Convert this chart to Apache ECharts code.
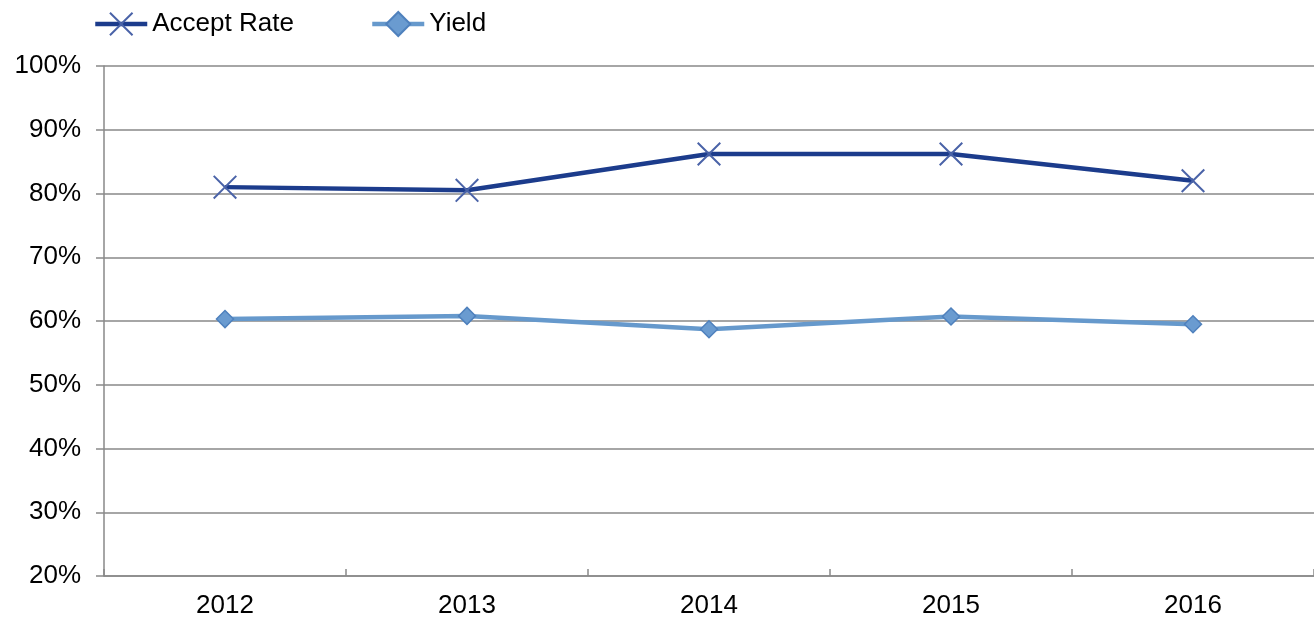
<!DOCTYPE html>
<html>
<head>
<meta charset="utf-8">
<script src="https://cdn.jsdelivr.net/npm/echarts@6/dist/echarts.min.js"></script>
<style>html,body{margin:0;padding:0;background:#fff;}#c{width:1314px;height:620px;}</style>
</head>
<body>
<div id="c"></div>
<script>
var categories = ['2012', '2013', '2014', '2015', '2016'];
var acceptRate = [81.0, 80.5, 86.2, 86.2, 82.0];
var yieldRate = [60.3, 60.8, 58.7, 60.7, 59.5];
var seriesNames = ['Accept Rate', 'Yield'];

var crossPath = 'path://M0,1.4 L1.4,0 L12,10.6 L22.6,0 L24,1.4 L13.4,12 L24,22.6 L22.6,24 L12,13.4 L1.4,24 L0,22.6 L10.6,12 Z';
var FONT = 'Liberation Sans, Arial, sans-serif';

var chart = echarts.init(document.getElementById('c'), null, {renderer: 'canvas'});
var legendCommon = {top: 6, itemWidth: 52, itemHeight: 30,
  lineStyle: {width: 4.5},
  textStyle: {fontFamily: FONT, fontSize: 26, color: '#000'}};
chart.setOption({
  animation: false,
  backgroundColor: '#ffffff',
  legend: [
    Object.assign({data: [seriesNames[0]], left: 88}, legendCommon),
    Object.assign({data: [seriesNames[1]], left: 365}, legendCommon)
  ],
  grid: {left: 104, right: -2, top: 66, bottom: 44, containLabel: false},
  xAxis: {
    type: 'category',
    data: categories,
    boundaryGap: true,
    axisLine: {lineStyle: {color: '#898989', width: 1.5}},
    axisTick: {show: true, inside: true, length: 7, lineStyle: {color: '#898989', width: 1.5}},
    axisLabel: {fontFamily: FONT, fontSize: 26, color: '#000', margin: 17}
  },
  yAxis: {
    type: 'value',
    min: 20, max: 100, interval: 10,
    axisLine: {show: true, lineStyle: {color: '#898989', width: 1.5}},
    axisTick: {show: true, length: 8, lineStyle: {color: '#898989', width: 1.5}},
    splitLine: {lineStyle: {color: '#898989', width: 1.5}},
    axisLabel: {fontFamily: FONT, fontSize: 26, color: '#000', margin: 23, formatter: '{value}%'}
  },
  series: [
    {
      name: seriesNames[0], type: 'line', data: acceptRate,
      symbol: crossPath, symbolSize: 24, showAllSymbol: true,
      lineStyle: {color: '#1c3c8c', width: 4.5},
      itemStyle: {color: '#4a63a8', borderWidth: 0},
      z: 3
    },
    {
      name: seriesNames[1], type: 'line', data: yieldRate,
      symbol: 'diamond', symbolSize: 17,
      lineStyle: {color: '#6699cc', width: 4.5},
      itemStyle: {color: '#6a9bd0', borderColor: '#4f81bd', borderWidth: 1.5},
      z: 2
    }
  ]
});
</script>
</body>
</html>
